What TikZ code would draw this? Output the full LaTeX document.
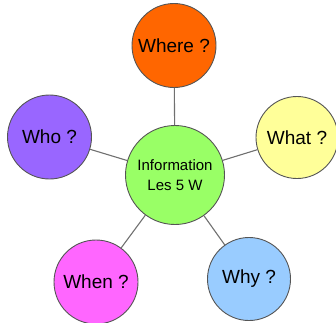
\documentclass[tikz,border=0pt]{standalone}
\usepackage{fontspec}
\setmainfont{Liberation Sans}
\definecolor{cwhere}{HTML}{FF6600}
\definecolor{cwho}{HTML}{9966FF}
\definecolor{cwhat}{HTML}{FFFF99}
\definecolor{cwhen}{HTML}{FF66FF}
\definecolor{cwhy}{HTML}{99CCFF}
\definecolor{ccenter}{HTML}{99FF66}
\definecolor{cborder}{HTML}{555555}
\definecolor{clink}{HTML}{707070}
\begin{document}
\begin{tikzpicture}[x=1pt,y=-1pt,
  bub/.style={circle, draw=cborder, line width=0.9pt, minimum size=84pt, inner sep=0pt, font=\fontsize{19}{22}\selectfont},
  hub/.style={bub, minimum size=99pt, align=center, font=\fontsize{15}{20}\selectfont},
  link/.style={draw=clink, line width=1.1pt}]
\useasboundingbox (0,0) rectangle (336,322);
\clip (0,0) rectangle (336,322);
\node[hub, fill=ccenter] (c) at (175,175) {Information\\Les 5 W};
\node[bub, fill=cwhere] (where) at (174,45.5) {Where ?};
\node[bub, fill=cwho] (who) at (49.5,137) {Who ?};
\node[bub, fill=cwhat, minimum size=82pt] (what) at (297,137.5) {What ?};
\node[bub, fill=cwhen] (when) at (96,282) {When ?};
\node[bub, fill=cwhy, minimum size=83pt] (why) at (249,279) {Why ?};
\draw[link] (c) -- (where);
\draw[link] (c) -- (who);
\draw[link] (c) -- (what);
\draw[link] (c) -- (when);
\draw[link] (c) -- (why);
\end{tikzpicture}
\end{document}
